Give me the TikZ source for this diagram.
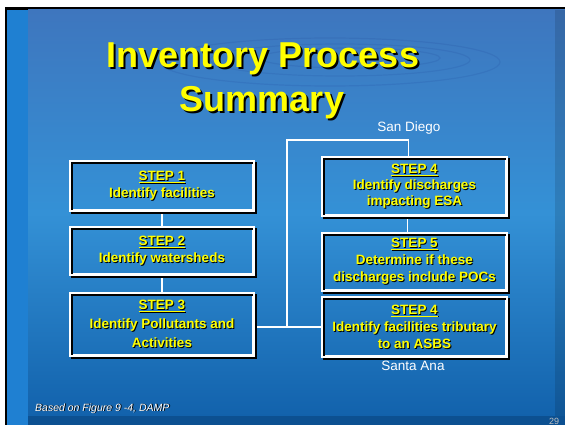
\documentclass[tikz,border=0pt]{standalone}
\usepackage{fontspec}
\setmainfont{Liberation Sans}
\usetikzlibrary{calc}
\definecolor{ttlyellow}{RGB}{255,255,0}
\definecolor{bgtop}{RGB}{62,118,190}
\definecolor{bgmid}{RGB}{52,145,214}
\definecolor{bgbot}{RGB}{18,98,172}
\definecolor{strip}{RGB}{31,128,210}
\definecolor{band}{RGB}{12,80,145}
\newcommand\shd[1]{\leavevmode\rlap{\kern0.9pt\raisebox{-0.9pt}{\color{black}#1}}#1}
\newcommand\shdb[1]{\leavevmode\rlap{\kern2pt\raisebox{-2pt}{\color{black}#1}}#1}
\tikzset{
  stepbox/.style={draw=white,line width=1.8pt,minimum width=182pt,inner sep=0pt,
    align=center,text=ttlyellow,font=\bfseries\fontsize{13.5}{17}\selectfont},
  shadowrect/.style={draw=black,line width=1.8pt},
  link/.style={draw=white,line width=1.8pt},
  whitelabel/.style={text=white,font=\fontsize{13.5}{15}\selectfont,inner sep=0pt},
}
\begin{document}
\begin{tikzpicture}[x=1pt,y=-1pt]
\useasboundingbox (0,0) rectangle (565,425);
% background
\fill[white] (0,0) rectangle (565,425);
\fill[black] (5,7) rectangle (565,425);
\fill[strip] (7,10) rectangle (28,425);
\shade[top color=bgtop,bottom color=bgbot,middle color=bgmid] (28,10) rectangle (565,416);
\fill[band] (28,416) rectangle (565,425);
\fill[black,opacity=0.12] (555,10) rectangle (565,416);
\begin{scope}[opacity=0.07,draw=black!60!blue,line width=1.2pt]
  \draw (330,62) ellipse [x radius=170,y radius=24];
  \draw (340,60) ellipse [x radius=130,y radius=16];
  \draw (350,58) ellipse [x radius=90,y radius=10];
\end{scope}
% title
\node[anchor=base,text=ttlyellow,font=\bfseries\fontsize{36}{40}\selectfont,inner sep=0pt] (t1) at (263,68) {\shdb{Inventory Process}};
\node[anchor=base,text=ttlyellow,font=\bfseries\fontsize{36}{40}\selectfont,inner sep=0pt] (t2) at (262,112) {\shdb{Summary}};
% step boxes
\node[stepbox,minimum height=48pt] (s1) at (162,186) {\shd{\underline{STEP 1}}\\\shd{Identify facilities}};
\node[stepbox,minimum height=46pt] (s2) at (162,251) {\shd{\underline{STEP 2}}\\\shd{Identify watersheds}};
\node[stepbox,minimum height=61pt,font=\bfseries\fontsize{13.5}{19}\selectfont] (s3) at (162,324.5) {\shd{\underline{STEP 3}}\\\shd{Identify Pollutants and}\\\shd{Activities}};
\node[stepbox,minimum width=183pt,minimum height=57pt,font=\bfseries\fontsize{13.5}{16}\selectfont] (s4) at (414.5,186.5) {\shd{\underline{STEP 4}}\\\shd{Identify discharges}\\\shd{impacting ESA}};
\node[stepbox,minimum width=183pt,minimum height=56pt,font=\bfseries\fontsize{13.5}{17}\selectfont] (s5) at (414.5,262) {\shd{\underline{STEP 5}}\\\shd{Determine if these}\\\shd{discharges include POCs}};
\node[stepbox,minimum width=183pt,minimum height=58pt,font=\bfseries\fontsize{13.5}{17}\selectfont] (s6) at (414.5,327) {\shd{\underline{STEP 4}}\\\shd{Identify facilities tributary}\\\shd{to an ASBS}};
% connectors
\coordinate (j) at (287,327);
\coordinate (top) at (287,140);
\draw[link] (s1.south) -- (s2.north);
\draw[link] (s2.south) -- (s3.north);
\draw[link] ([xshift=-7pt]s4.south) -- ([xshift=-7pt]s5.north);
\draw[link] (s3.east |- j) -- (s6.west |- j);
\draw[link] (j) -- (top) -| ([xshift=-6pt]s4.north);
% box drop shadows (black offset outlines), then white borders
\foreach \b in {s1,s2,s3,s4,s5,s6}{
  \draw[shadowrect] ([shift={(2,2)}]\b.north west) rectangle ([shift={(2,2)}]\b.south east);
  \draw[link] (\b.north west) rectangle (\b.south east);
}
% labels
\node[whitelabel,anchor=base] (sd) at (409,132) {San Diego};
\node[whitelabel,anchor=base] (sa) at (413,370) {Santa Ana};
\node[anchor=base west,text=white,font=\itshape\fontsize{10.5}{12}\selectfont,inner sep=0pt] (src) at (35,411) {\shd{Based on Figure 9 -4, DAMP}};
\node[anchor=base,text=black!25,font=\fontsize{9}{10}\selectfont\rmfamily,inner sep=0pt] (pg) at (554,424.5) {29};
\end{tikzpicture}
\end{document}
